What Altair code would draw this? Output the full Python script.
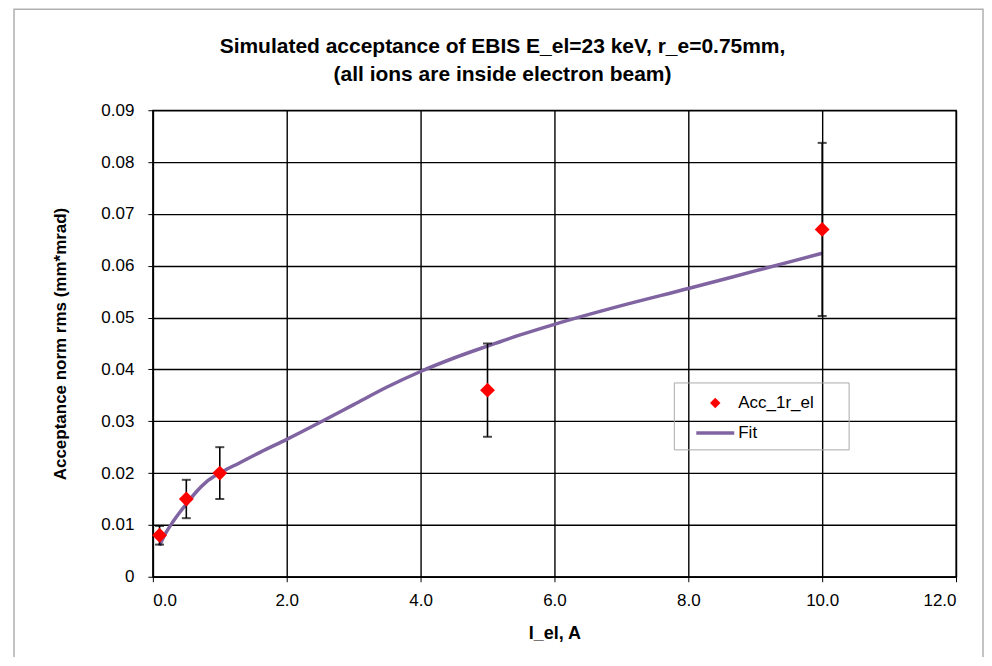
import altair as alt
import pandas as pd

# Measured data points
current = [0.1, 0.5, 1.0, 5.0, 10.0]
acceptance = [0.008, 0.015, 0.020, 0.036, 0.067]
err = [0.0018, 0.0037, 0.005, 0.009, 0.0167]

# Fit curve
fit_x = [0.1, 0.15, 0.2, 0.3, 0.4, 0.5, 0.65, 0.8, 1.0, 1.3, 1.6, 2.0, 2.5,
         3.0, 3.5, 4.0, 4.5, 5.0, 5.5, 6.0, 7.0, 8.0, 9.0, 10.0]
fit_y = [0.0060, 0.0074, 0.0086, 0.0106, 0.0124, 0.0140, 0.0164, 0.0183,
         0.0200, 0.0220, 0.0240, 0.0265, 0.0298, 0.0332, 0.0366, 0.0396,
         0.0422, 0.0445, 0.0467, 0.0487, 0.0523, 0.0556, 0.0590, 0.0624]

x_ticks = [0, 2, 4, 6, 8, 10, 12]
y_ticks = [0, 0.01, 0.02, 0.03, 0.04, 0.05, 0.06, 0.07, 0.08, 0.09]

title_lines = ["Simulated acceptance of EBIS E_el=23 keV, r_e=0.75mm,",
               "(all ions are inside electron beam)"]
legend_labels = ["Acc_1r_el", "Fit"]

pts = pd.DataFrame({"x": current, "y": acceptance,
                    "lo": [a - e for a, e in zip(acceptance, err)],
                    "hi": [a + e for a, e in zip(acceptance, err)]})
fit = pd.DataFrame({"x": fit_x, "y": fit_y})

W, H = 804, 467
FONT = "Liberation Sans"

xs = alt.Scale(domain=[0, 12], nice=False, zero=False)
ys = alt.Scale(domain=[0, 0.09], nice=False, zero=False)

xax = alt.Axis(values=x_ticks, format=".1f", title="I_el, A", grid=True,
               gridColor="black", gridWidth=1.4, gridOpacity=1,
               domainColor="black", domainWidth=1.5, tickColor="black",
               tickSize=5, labelFont=FONT, labelFontSize=17, labelColor="black",
               labelPadding=11, titleFont=FONT, titleFontSize=18,
               titleFontWeight="bold", titleColor="black", titlePadding=16)
yax = alt.Axis(values=y_ticks, title="Acceptance norm rms (mm*mrad)", grid=True,
               labelExpr="datum.value == 0 ? '0' : format(datum.value, '.2f')",
               gridColor="black", gridWidth=1.4, gridOpacity=1,
               domainColor="black", domainWidth=1.5, tickColor="black",
               tickSize=5, labelFont=FONT, labelFontSize=17, labelColor="black",
               labelPadding=14, titleFont=FONT, titleFontSize=17,
               titleFontWeight="bold", titleColor="black", titlePadding=31)

base_x = alt.X("x:Q", scale=xs, axis=xax)
base_y = alt.Y("y:Q", scale=ys, axis=yax)

line = alt.Chart(fit).mark_line(color="#8064A2", strokeWidth=3.5,
                                interpolate="monotone").encode(
    x=base_x, y=base_y)

bars = alt.Chart(pts).mark_rule(color="black", strokeWidth=1.6).encode(
    x=alt.X("x:Q", scale=xs), y=alt.Y("lo:Q", scale=ys), y2="hi:Q")
caps_hi = alt.Chart(pts).mark_tick(color="black", thickness=2, size=9,
                                   orient="horizontal").encode(
    x=alt.X("x:Q", scale=xs), y=alt.Y("hi:Q", scale=ys))
caps_lo = alt.Chart(pts).mark_tick(color="black", thickness=2, size=9,
                                   orient="horizontal").encode(
    x=alt.X("x:Q", scale=xs), y=alt.Y("lo:Q", scale=ys))

points = alt.Chart(pts).mark_point(shape="diamond", filled=True, color="#FF0000",
                                   size=220, opacity=1).encode(
    x=alt.X("x:Q", scale=xs), y=alt.Y("y:Q", scale=ys))

one = pd.DataFrame({"a": [0]})

# Legend (drawn manually)
leg_box = alt.Chart(one).mark_rect(
    fill="white", fillOpacity=0, stroke="#aaaaaa", strokeWidth=1).encode(
    x=alt.value(522), x2=alt.value(697), y=alt.value(273), y2=alt.value(340))
leg_pt = alt.Chart(one).mark_point(
    shape="diamond", filled=True, color="#FF0000", size=110, opacity=1).encode(
    x=alt.value(563), y=alt.value(293))
leg_line = alt.Chart(one).mark_rule(
    color="#8064A2", strokeWidth=3.5).encode(
    x=alt.value(544), x2=alt.value(582), y=alt.value(323))
leg_t1 = alt.Chart(one).mark_text(
    text=legend_labels[0], align="left", baseline="middle", font=FONT,
    fontSize=17, color="black").encode(x=alt.value(586), y=alt.value(293))
leg_t2 = alt.Chart(one).mark_text(
    text=legend_labels[1], align="left", baseline="middle", font=FONT,
    fontSize=17, color="black").encode(x=alt.value(586), y=alt.value(323))

# Title as text marks
t1 = alt.Chart(one).mark_text(
    text=title_lines[0], align="center", baseline="middle", font=FONT,
    fontSize=21, fontWeight="bold", color="black").encode(
    x=alt.value(350), y=alt.value(-63))
t2 = alt.Chart(one).mark_text(
    text=title_lines[1], align="center", baseline="middle", font=FONT,
    fontSize=21, fontWeight="bold", color="black").encode(
    x=alt.value(350), y=alt.value(-35))

# Outer frame of the chart
frame = alt.Chart(one).mark_rect(
    fill="white", fillOpacity=0, stroke="#b0b0b0", strokeWidth=1.5).encode(
    x=alt.value(-139), x2=alt.value(831), y=alt.value(-101), y2=alt.value(560))

chart = alt.layer(
    frame, line, bars, caps_hi, caps_lo, points,
    leg_box, leg_pt, leg_line, leg_t1, leg_t2, t1, t2
).properties(
    width=W, height=H,
    autosize=alt.AutoSizeParams(type="none"),
    padding={"left": 145, "top": 102, "right": 28, "bottom": 80},
    background="white",
).configure_view(stroke="black", strokeWidth=1.4)

chart.save("out.html", embed_options={"renderer": "svg", "actions": False})
